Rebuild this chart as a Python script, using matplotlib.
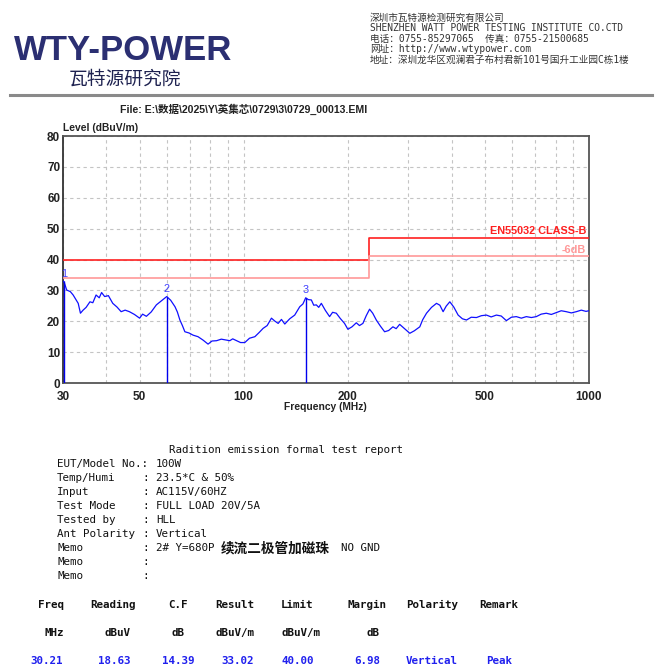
import matplotlib.pyplot as plt
import numpy as np

# measured trace (MHz, dBuV/m)
freq = [30.0, 30.2, 30.75, 31.5, 32.1, 32.7, 33.2, 33.7, 34.3, 35.0, 35.9, 36.6, 37.4, 38.2, 38.8,
        39.6, 40.6, 41.8, 43.0, 44.2, 45.4, 46.7, 48.3, 50.0, 51.0, 52.3, 54.0, 55.9, 57.8, 59.9,
        61.5, 63.3, 64.3, 65.4, 66.5, 67.6, 69.5, 71.4, 73.8, 76.3, 78.9, 81.0, 83.5, 86.2, 89.2,
        91.2, 93.0, 95.4, 98.0, 100.8, 104.0, 107.8, 110.8, 113.9, 117.0, 120.4, 123.0, 125.9,
        128.7, 131.6, 136.0, 140.6, 145.4, 148.5, 151.3, 154.0, 157.1, 159.6, 162.4, 165.0, 167.9,
        172.5, 177.4, 181.0, 185.5, 190.5, 196.0, 200.4, 206.0, 212.0, 216.5, 221.5, 226.5, 231.6,
        236.5, 242.2, 249.0, 256.0, 263.0, 270.6, 276.5, 283.0, 291.0, 299.1, 302.8, 312.0, 323.7,
        330.0, 338.5, 350.0, 361.8, 370.0, 378.1, 386.0, 395.4, 406.0, 417.9, 430.0, 441.9, 456.0,
        472.2, 488.0, 504.7, 521.0, 539.4, 557.0, 576.4, 596.0, 616.0, 637.0, 658.5, 681.0, 703.7,
        727.0, 752.2, 778.0, 804.0, 831.0, 859.5, 889.0, 919.0, 950.0, 980.0, 1000.0]
level = [33.0, 32.8, 30.1, 29.6, 28.5, 27.0, 25.8, 22.6, 23.6, 24.5, 26.3, 26.0, 28.5, 27.6, 29.3,
         28.0, 28.3, 25.8, 24.6, 23.1, 23.6, 23.1, 22.2, 21.0, 22.3, 21.6, 23.0, 25.3, 26.6, 28.0,
         26.8, 24.7, 23.0, 20.4, 18.6, 16.6, 16.2, 15.5, 15.0, 13.9, 12.6, 13.6, 13.7, 14.2, 13.9,
         13.7, 14.3, 13.7, 13.1, 13.1, 14.5, 15.0, 16.3, 17.7, 18.6, 21.0, 20.1, 19.3,
         20.6, 19.1, 20.8, 22.0, 24.7, 25.6, 27.6, 27.0, 26.9, 25.2, 25.3, 24.5, 25.8,
         23.5, 21.5, 22.9, 22.6, 20.9, 19.3, 17.4, 18.2, 19.5, 18.6, 19.3, 21.8, 23.9,
         22.6, 20.4, 18.4, 16.6, 17.0, 18.2, 17.6, 19.0, 17.8, 16.6, 16.1, 16.9, 18.2,
         20.5, 22.6, 24.5, 25.8, 25.2, 23.1, 24.9, 26.3, 24.6, 22.0, 20.8, 20.4, 21.3,
         21.2, 21.8, 22.0, 21.4, 22.0, 21.7, 20.2, 21.3, 21.5, 21.0, 21.5, 21.2, 21.5,
         22.3, 22.6, 22.2, 22.8, 23.4, 23.1, 22.7, 23.1, 23.6, 23.2, 23.4]

# limit EN55032 class B
limit_freq = [30, 230, 230, 1000]
limit_level = [40, 40, 47, 47]
margin_db = 6

# markers
marker_id = ['1', '2', '3']
marker_freq = [30.21, 60.0, 151.3]
marker_level = [33.02, 28.0, 27.6]

# report info
info_labels = ['EUT/Model No.:', 'Temp/Humi', 'Input', 'Test Mode', 'Tested by',
               'Ant Polarity', 'Memo', 'Memo', 'Memo']
info_values = ['100W', '23.5*C & 50%', 'AC115V/60HZ', 'FULL LOAD 20V/5A', 'HLL',
               'Vertical', '', '', '']
memo_parts = ['2# Y=680P', '续流二极管加磁珠', 'NO GND']

table_head = ['Freq', 'Reading', 'C.F', 'Result', 'Limit', 'Margin', 'Polarity', 'Remark']
table_unit = ['MHz', 'dBuV', 'dB', 'dBuV/m', 'dBuV/m', 'dB', '', '']
table_row = ['30.21', '18.63', '14.39', '33.02', '40.00', '6.98', 'Vertical', 'Peak']

header_lines = ['深圳市瓦特源检测研究有限公司',
                'SHENZHEN WATT POWER TESTING INSTITUTE CO.CTD',
                '电话：0755-85297065  传真：0755-21500685',
                '网址：http://www.wtypower.com',
                '地址：深圳龙华区观澜君子布村君新101号国升工业园C栋1楼']

W, H = 663, 671
fig = plt.figure(figsize=(W / 100, H / 100), dpi=100)
fig.patch.set_facecolor('white')


def px(x, y):
    return x / W, 1 - y / H


cjk = ['Noto Sans CJK SC', 'DejaVu Sans']
mono = ['DejaVu Sans Mono', 'Noto Sans CJK SC']
arial = ['Liberation Sans', 'Noto Sans CJK SC']

# ---- header / logo ----
fig.text(*px(14, 50), 'WTY-POWER', family='Liberation Sans', weight='bold', fontsize=25,
         color='#2b2f72', va='center', ha='left')
fig.text(*px(125, 79), '瓦特源研究院', family=cjk, fontsize=13.5, color='#1e2250',
         va='center', ha='center')
for i, t in enumerate(header_lines):
    fig.text(*px(370, 18 + i * 10.4), t, family=mono, fontsize=6.9, color='#333333',
             va='center', ha='left')
fig.add_artist(plt.Line2D([10 / W, 652 / W], [1 - 95 / H, 1 - 95 / H], color='#8a8a8a', lw=2.2))

fig.text(*px(244, 109), r'File: E:\数据\2025\Y\英集芯\0729\3\0729_00013.EMI', family=arial,
         weight='bold', fontsize=7.6, ha='center', va='center', color='#222222')

# ---- chart ----
ax = fig.add_axes([63 / W, 1 - 383 / H, 526 / W, 247 / H])
ax.set_xscale('log')
ax.set_xlim(30, 1000)
ax.set_ylim(0, 80)
ax.set_yticks(np.arange(0, 81, 10))
ax.set_xticks([30, 50, 100, 200, 500, 1000])
ax.set_xticklabels(['30', '50', '100', '200', '500', '1000'])
ax.set_xticks([40, 60, 70, 80, 90, 300, 400, 600, 700, 800, 900], minor=True)
ax.xaxis.set_minor_formatter(plt.NullFormatter())
ax.grid(True, which='both', axis='x', color='#c4c4c4', ls=(0, (3, 3)), lw=0.8)
ax.grid(True, which='major', axis='y', color='#c4c4c4', ls=(0, (3, 3)), lw=0.8)
ax.tick_params(which='both', length=0, labelsize=8.5)
ax.tick_params(axis='x', pad=6)
ax.tick_params(axis='y', pad=2)
for lab in ax.get_xticklabels() + ax.get_yticklabels():
    lab.set_fontweight('bold')
    lab.set_family('Liberation Sans')
    lab.set_color('#222222')
for s in ax.spines.values():
    s.set_color('#555555')
    s.set_linewidth(1.3)
ax.spines['left'].set_color('#333333')

ax.plot(limit_freq, limit_level, color='#ff2020', lw=1.2, zorder=3)
ax.plot(limit_freq, [v - margin_db for v in limit_level], color='#ff9898', lw=1.2, zorder=3)
ax.text(980, 47.6, 'EN55032 CLASS-B', color='#ff2020', fontsize=7.8, weight='bold',
        family='Liberation Sans', ha='right', va='bottom')
ax.text(980, 41.6, '-6dB', color='#ff9898', fontsize=7.8, weight='bold',
        family='Liberation Sans', ha='right', va='bottom')

ax.plot(freq, level, color='#1010ff', lw=0.9, zorder=4)
for mid, mf, ml in zip(marker_id, marker_freq, marker_level):
    ax.vlines(mf, 0, ml, color='#0000ee', lw=1.0, zorder=5)
    ax.text(mf, ml + 0.8, mid, color='#4040ff', fontsize=7.8, ha='center', va='bottom',
            family='Liberation Sans')

fig.text(*px(63, 128), 'Level (dBuV/m)', family='Liberation Sans', weight='bold', fontsize=7.4,
         ha='left', va='center', color='#222222')
fig.text(*px(325, 407), 'Frequency (MHz)', family='Liberation Sans', weight='bold', fontsize=7.4,
         ha='center', va='center', color='#222222')

# ---- report block ----
fs = 7.8
fig.text(*px(169, 450), 'Radition emission formal test report', family=mono, fontsize=fs,
         ha='left', va='center', color='#111111')
for i, (lab, val) in enumerate(zip(info_labels, info_values)):
    y = 464 + i * 14
    fig.text(*px(57, y), lab, family=mono, fontsize=fs, ha='left', va='center', color='#111111')
    if i > 0:
        fig.text(*px(142, y), ':', family=mono, fontsize=fs, ha='left', va='center',
                 color='#111111')
    fig.text(*px(156, y), val, family=mono, fontsize=fs, ha='left', va='center', color='#111111')
y = 464 + 6 * 14
fig.text(*px(156, y), memo_parts[0], family=mono, fontsize=fs, ha='left', va='center',
         color='#111111')
fig.text(*px(221, y), memo_parts[1], family=cjk, fontsize=9.8, ha='left', va='center',
         color='#111111', weight='bold')
fig.text(*px(341, y), memo_parts[2], family=mono, fontsize=fs, ha='left', va='center',
         color='#111111')

# ---- result table ----
head_x = [51, 113, 178, 235, 297, 367, 432, 499]
unit_x = [54, 117, 178, 235, 301, 373, 432, 499]
val_x = [47, 114, 178, 238, 298, 367, 432, 499]
for t, x in zip(table_head, head_x):
    fig.text(*px(x, 605), t, family=mono, fontsize=fs, weight='bold', ha='center', va='center',
             color='#111111')
for t, x in zip(table_unit, unit_x):
    fig.text(*px(x, 633), t, family=mono, fontsize=fs, weight='bold', ha='center', va='center',
             color='#111111')
for t, x in zip(table_row, val_x):
    fig.text(*px(x, 661), t, family=mono, fontsize=fs, weight='bold', ha='center', va='center',
             color='#2020ee')

fig.savefig('out.png', dpi=100)
